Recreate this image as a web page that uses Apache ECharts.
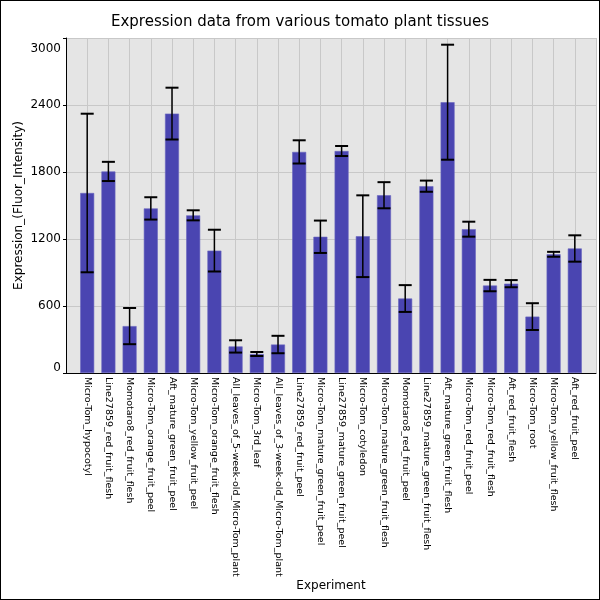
<!DOCTYPE html>
<html>
<head>
<meta charset="utf-8">
<script src="https://cdn.jsdelivr.net/npm/echarts@6/dist/echarts.min.js"></script>
<style>
  html, body { margin: 0; padding: 0; background: #fff; }
  #chart { width: 600px; height: 600px; box-sizing: border-box; border: 1px solid #000; }
</style>
</head>
<body>
<div id="chart"></div>
<script>
// tissue names, one per bar
const categories = [
  'Micro-Tom_hypocotyl',
  'Line27859_red_fruit_flesh',
  'Momotaro8_red_fruit_flesh',
  'Micro-Tom_orange_fruit_peel',
  'Aft_mature_green_fruit_peel',
  'Micro-Tom_yellow_fruit_peel',
  'Micro-Tom_orange_fruit_flesh',
  'All_leaves_of_5-week-old_Micro-Tom_plant',
  'Micro-Tom_3rd_leaf',
  'All_leaves_of_3-week-old_Micro-Tom_plant',
  'Line27859_red_fruit_peel',
  'Micro-Tom_mature_green_fruit_peel',
  'Line27859_mature_green_fruit_peel',
  'Micro-Tom_cotyledon',
  'Micro-Tom_mature_green_fruit_flesh',
  'Momotaro8_red_fruit_peel',
  'Line27859_mature_green_fruit_flesh',
  'Aft_mature_green_fruit_flesh',
  'Micro-Tom_red_fruit_peel',
  'Micro-Tom_red_fruit_flesh',
  'Aft_red_fruit_flesh',
  'Micro-Tom_root',
  'Micro-Tom_yellow_fruit_flesh',
  'Aft_red_fruit_peel'
];

// mean expression
const means = [
  1612, 1805, 420, 1474, 2323, 1412, 1096, 238,
  170, 255, 1980, 1220, 1988, 1225, 1592, 667,
  1673, 2425, 1288, 783, 800, 505, 1063, 1115
];

// standard deviation (error bar half height)
const errors = [
  710, 86, 162, 100, 232, 45, 187, 55,
  18, 78, 104, 145, 45, 366, 117, 120,
  50, 515, 67, 51, 32, 120, 22, 118
];

const yTicks = [0, 600, 1200, 1800, 2400, 3000];

// pad one empty slot on each side so bars sit on the split lines
const axisCats = [''].concat(categories, ['']);
const barData = ['-'].concat(means, ['-']);
const errData = means.map((m, i) => [i + 1, m - errors[i], m + errors[i]]);

const chart = echarts.init(document.getElementById('chart'));

chart.setOption({
  animation: false,
  textStyle: { fontFamily: 'DejaVu Sans' },
  title: {
    text: 'Expression data from various tomato plant tissues',
    left: 'center',
    top: 9,
    textStyle: { fontSize: 15, fontWeight: 'normal', color: '#000', fontFamily: 'DejaVu Sans' }
  },
  grid: {
    left: 65, right: 3, top: 37, bottom: 226,
    show: true, backgroundColor: '#e5e5e5', borderWidth: 0
  },
  xAxis: {
    type: 'category',
    data: axisCats,
    boundaryGap: false,
    name: 'Experiment',
    nameLocation: 'middle',
    nameGap: 207,
    nameMoveOverlap: false,
    nameTextStyle: { fontSize: 12, color: '#000' },
    axisLine: { lineStyle: { color: '#000', width: 1 } },
    axisTick: { show: false },
    axisLabel: { interval: 0, rotate: -90, fontSize: 9.5, color: '#000', margin: 4 },
    splitLine: { show: true, interval: 0, lineStyle: { color: '#c8c8c8', width: 1 } }
  },
  yAxis: {
    type: 'value',
    min: yTicks[0],
    max: yTicks[yTicks.length - 1],
    interval: 600,
    name: 'Expression_(Fluor_Intensity)',
    nameLocation: 'middle',
    nameGap: 41,
    nameMoveOverlap: false,
    nameTextStyle: { fontSize: 12, color: '#000' },
    axisLine: { show: true, lineStyle: { color: '#000', width: 1 } },
    axisTick: { show: true, length: 3, lineStyle: { color: '#000' } },
    axisLabel: {
      fontSize: 12, color: '#000', margin: 5,
      formatter: v => v === 3000 ? '{top|' + v + '}' : (v === 0 ? '{bot|' + v + '}' : String(v)),
      rich: {
        top: { fontSize: 12, color: '#000', padding: [22, 0, 0, 0] },
        bot: { fontSize: 12, color: '#000', padding: [0, 0, 10, 0] }
      }
    },
    splitLine: { show: true, lineStyle: { color: '#c8c8c8', width: 1 } }
  },
  series: [
    {
      type: 'bar',
      data: barData,
      barWidth: 14,
      itemStyle: { color: '#4a45b1', borderColor: '#6a66c0', borderWidth: 0.6 }
    },
    {
      type: 'custom',
      data: errData,
      z: 10,
      renderItem: (params, api) => {
        const x = api.value(0);
        const lo = api.coord([x, api.value(1)]);
        const hi = api.coord([x, api.value(2)]);
        const hw = 6.5;
        const style = { stroke: '#000', lineWidth: 1.5 };
        return {
          type: 'group',
          children: [
            { type: 'line', shape: { x1: lo[0], y1: lo[1], x2: hi[0], y2: hi[1] }, style },
            { type: 'line', shape: { x1: hi[0] - hw, y1: hi[1], x2: hi[0] + hw, y2: hi[1] }, style: { stroke: '#000', lineWidth: 2 } },
            { type: 'line', shape: { x1: lo[0] - hw, y1: lo[1], x2: lo[0] + hw, y2: lo[1] }, style: { stroke: '#000', lineWidth: 2 } }
          ]
        };
      }
    }
  ]
});
</script>
</body>
</html>
